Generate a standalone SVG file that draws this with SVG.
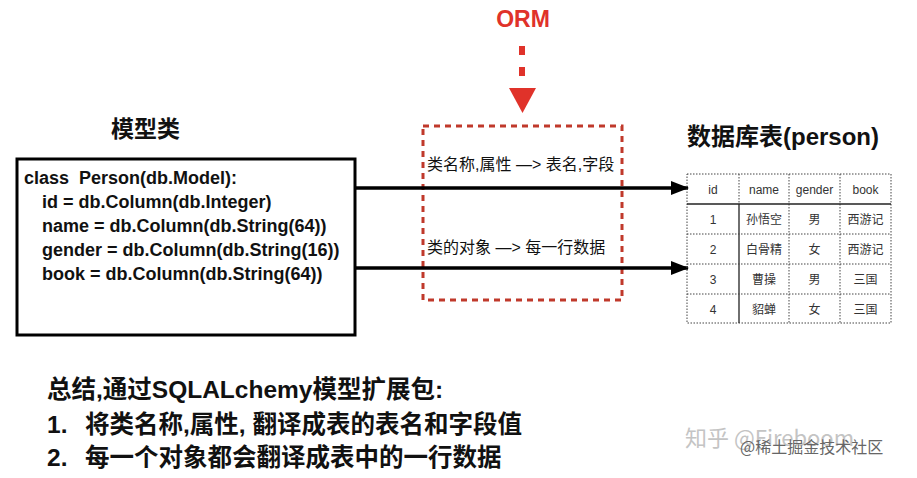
<svg xmlns="http://www.w3.org/2000/svg" width="917" height="478" viewBox="0 0 917 478">
<defs>
<style>
.b{font-family:"Liberation Sans","Noto Sans CJK SC",sans-serif;font-weight:bold;fill:#111}
.code{font-size:18px;white-space:pre}
.lbl{font-family:"Liberation Sans","Noto Sans CJK SC",sans-serif;font-size:16px;fill:#111}
.cell{font-family:"Liberation Sans","Noto Sans CJK SC",sans-serif;font-size:12px;fill:#333;text-anchor:middle}
.dot{stroke:#444;stroke-width:1;stroke-dasharray:1.5 1.5;fill:none}
.sol{stroke:#222;stroke-width:1.3;fill:none}
.conn{stroke:#000;stroke-width:3.5;fill:none}
.sum{font-size:24.5px}
.wm{font-family:"Noto Sans CJK SC",sans-serif}
</style>
<marker id="ah" markerWidth="18" markerHeight="14" refX="17" refY="7" orient="auto" markerUnits="userSpaceOnUse">
<path d="M0,0 L18,7 L0,14 z" fill="#000"/>
</marker>
</defs>
<rect width="917" height="478" fill="#fff"/>

<g id="orm">
<text x="523" y="27" text-anchor="middle" font-family="Liberation Sans,sans-serif" font-weight="bold" font-size="23" fill="#e0322a">ORM</text>
<line x1="522" y1="46" x2="522" y2="86" stroke="#e0322a" stroke-width="6" stroke-dasharray="9 12"/>
<path d="M509,88 L536,88 L522.5,113 z" fill="#e0322a"/>
</g>

<g id="model">
<text class="b" x="111" y="137" font-size="23">模型类</text>
<rect x="17" y="159" width="338" height="176" fill="none" stroke="#000" stroke-width="3"/>
<text class="b code" x="24" y="184" xml:space="preserve">class  Person(db.Model):</text>
<text class="b code" x="42" y="208">id = db.Column(db.Integer)</text>
<text class="b code" x="42" y="232">name = db.Column(db.String(64))</text>
<text class="b code" x="42" y="256">gender = db.Column(db.String(16))</text>
<text class="b code" x="42" y="280">book = db.Column(db.String(64))</text>
</g>

<g id="mapping">
<rect x="423" y="126" width="199" height="174" fill="none" stroke="#c0392b" stroke-width="3" stroke-dasharray="6 5"/>
<text class="lbl" x="427" y="170">类名称,属性 —&gt; 表名,字段</text>
<text class="lbl" x="427" y="253">类的对象 —&gt; 每一行数据</text>
</g>

<g id="connectors">
<line class="conn" x1="355" y1="188" x2="688" y2="188" marker-end="url(#ah)"/>
<line class="conn" x1="355" y1="268" x2="688" y2="268" marker-end="url(#ah)"/>
</g>

<g id="table">
<text class="b" x="687" y="145" font-size="24">数据库表(person)</text>
<rect class="dot" x="687" y="174" width="204" height="149"/>
<line class="dot" x1="739" y1="174" x2="739" y2="204"/>
<line class="dot" x1="789" y1="174" x2="789" y2="323"/>
<line class="dot" x1="840" y1="174" x2="840" y2="323"/>
<line class="sol" x1="687" y1="204" x2="891" y2="204"/>
<line class="sol" x1="739" y1="204" x2="739" y2="323"/>
<line class="dot" x1="687" y1="234" x2="891" y2="234"/>
<line class="dot" x1="687" y1="264" x2="891" y2="264"/>
<line class="dot" x1="687" y1="294" x2="891" y2="294"/>
<text class="cell" x="713" y="194">id</text>
<text class="cell" x="764" y="194">name</text>
<text class="cell" x="814.5" y="194">gender</text>
<text class="cell" x="865.5" y="194">book</text>
<text class="cell" x="713" y="224">1</text>
<text class="cell" x="764" y="224">孙悟空</text>
<text class="cell" x="814.5" y="224">男</text>
<text class="cell" x="865.5" y="224">西游记</text>
<text class="cell" x="713" y="254">2</text>
<text class="cell" x="764" y="254">白骨精</text>
<text class="cell" x="814.5" y="254">女</text>
<text class="cell" x="865.5" y="254">西游记</text>
<text class="cell" x="713" y="284">3</text>
<text class="cell" x="764" y="284">曹操</text>
<text class="cell" x="814.5" y="284">男</text>
<text class="cell" x="865.5" y="284">三国</text>
<text class="cell" x="713" y="314">4</text>
<text class="cell" x="764" y="314">貂蝉</text>
<text class="cell" x="814.5" y="314">女</text>
<text class="cell" x="865.5" y="314">三国</text>
</g>

<g id="summary">
<text class="b sum" x="47" y="398">总结,通过SQLALchemy模型扩展包:</text>
<text class="b sum" x="47" y="433">1.</text>
<text class="b sum" x="85" y="433">将类名称,属性, 翻译成表的表名和字段值</text>
<text class="b sum" x="47" y="466">2.</text>
<text class="b sum" x="85" y="466">每一个对象都会翻译成表中的一行数据</text>
</g>

<g id="watermark">
<text class="wm" x="685" y="446" font-size="22" fill="#c4c4c4">知乎 @Fireboom</text>
<text class="wm" x="740" y="453" font-size="16" fill="#666">@稀土掘金技术社区</text>
</g>
</svg>
